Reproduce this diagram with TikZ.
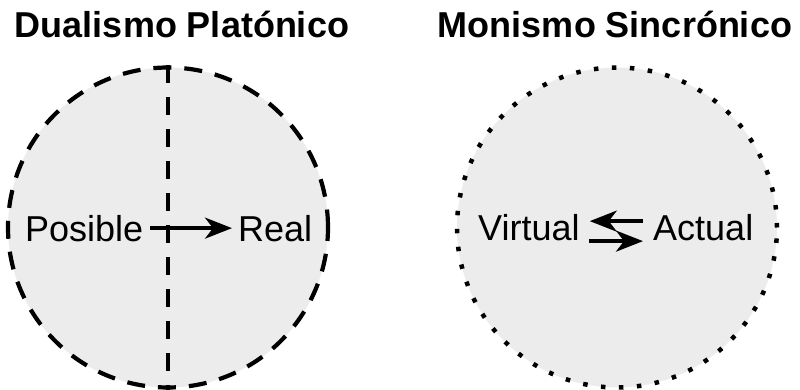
\documentclass[tikz,border=0pt]{standalone}
\usepackage{fontspec}
\setmainfont{Liberation Sans}
\usetikzlibrary{arrows.meta}
\definecolor{circfill}{RGB}{236,236,236}
\tikzset{
  titletxt/.style={font=\bfseries\fontsize{36}{40}\selectfont, inner sep=0pt, anchor=base},
  bodytxt/.style={font=\fontsize{36}{40}\selectfont, inner sep=0pt, anchor=base west},
  dashcirc/.style={fill=circfill, draw=black, line width=4.2pt, dash pattern=on 18pt off 13pt},
  dotcirc/.style={fill=circfill, draw=black, line width=4.5pt, dash pattern=on 4.5pt off 13.5pt},
  divline/.style={draw=black, line width=4.2pt, dash pattern=on 18pt off 14pt},
  arr/.style={draw=black, line width=3.6pt, -{Stealth[length=27pt,width=21pt,inset=8pt]}}
}
\begin{document}
\begin{tikzpicture}[x=1pt,y=-1pt]
\useasboundingbox (0,0) rectangle (800,390);
% titles
\node[titletxt] (t1) at (182,38) {Dualismo Platónico};
\node[titletxt] (t2) at (615,38) {Monismo Sincrónico};
% left circle
\node[dashcirc, circle, minimum size=320pt, inner sep=0pt] (c1) at (168,227.5) {};
\draw[divline] (c1.north) -- (c1.south);
\node[bodytxt] (pos) at (25,241) {Posible};
\node[bodytxt] (real) at (238,241) {Real};
\draw[arr, shorten <=7pt, shorten >=6pt] (pos.east) -- (real.west);
% right circle
\node[dotcirc, circle, minimum size=320pt, inner sep=0pt] (c2) at (617,227.5) {};
\node[bodytxt] (vir) at (478,240) {Virtual};
\node[bodytxt] (act) at (653,240) {Actual};
\draw[arr, shorten <=10pt, shorten >=10pt] ([yshift=6pt]act.west) -- ([yshift=6pt]vir.east);
\draw[arr, shorten <=9pt, shorten >=10pt] ([yshift=-14pt]vir.east) -- ([yshift=-14pt]act.west);
\end{tikzpicture}
\end{document}
